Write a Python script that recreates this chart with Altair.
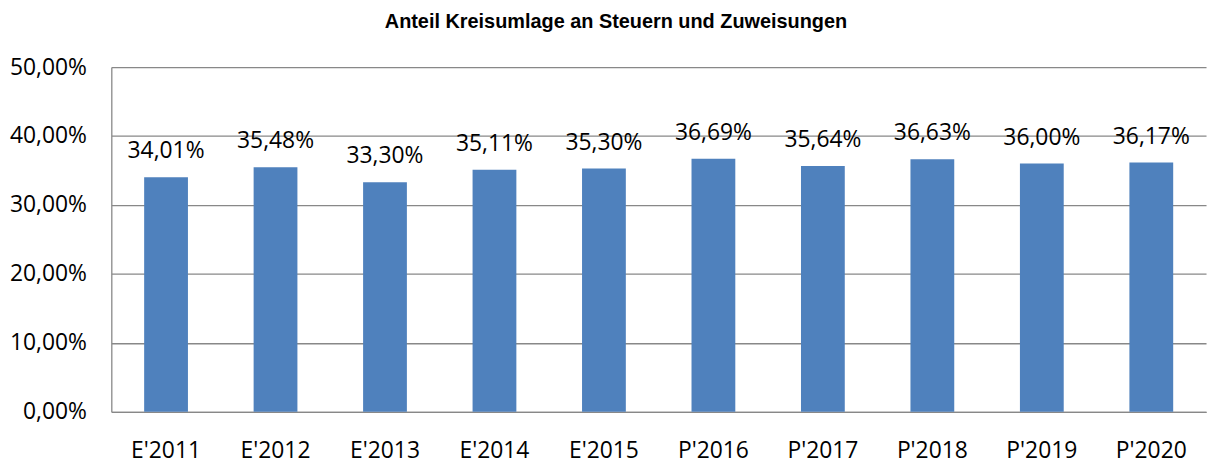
import altair as alt
import pandas as pd

categories = ["E'2011", "E'2012", "E'2013", "E'2014", "E'2015",
              "P'2016", "P'2017", "P'2018", "P'2019", "P'2020"]
values = [34.01, 35.48, 33.30, 35.11, 35.30, 36.69, 35.64, 36.63, 36.00, 36.17]
labels = [f"{v:.2f}".replace(".", ",") + "%" for v in values]

df = pd.DataFrame({"cat": categories, "val": values, "lab": labels})

FONT = "Open Sans"
GRID = "#888888"

x = alt.X("cat:N", sort=categories, title=None,
          scale=alt.Scale(paddingInner=0.6, paddingOuter=0.3),
          axis=alt.Axis(labelAngle=0, labelFont=FONT, labelFontSize=23,
                        labelColor="black", ticks=False, labelPadding=28,
                        domainColor=GRID, domainWidth=1.3))
y = alt.Y("val:Q", title=None,
          scale=alt.Scale(domain=[0, 50], nice=False),
          axis=alt.Axis(values=[0, 10, 20, 30, 40, 50],
                        labelExpr="replace(format(datum.value, '.2f'), '.', ',') + '%'",
                        labelFont=FONT, labelFontSize=23, labelColor="black",
                        ticks=False, labelPadding=25, gridColor=GRID,
                        gridWidth=1.3, domainColor=GRID, domainWidth=1.3))

base = alt.Chart(df)
bars = base.mark_bar(color="#4F81BD").encode(x=x, y=y)
text = base.mark_text(font=FONT, fontSize=23, color="black",
                      baseline="alphabetic", dy=-19).encode(
    x=alt.X("cat:N", sort=categories), y="val:Q", text="lab:N")

chart = (bars + text).properties(
    width=1102, height=347,
    autosize=alt.AutoSizeParams(type="none"),
    padding={"left": 104, "top": 58, "right": 5, "bottom": 46},
    title=alt.TitleParams("Anteil Kreisumlage an Steuern und Zuweisungen",
                          anchor="middle", dx=-43, offset=24),
).configure_view(stroke=None).configure_title(
    font="Liberation Sans", fontSize=20, fontWeight="bold", color="black")

chart.save("out.html", embed_options={"renderer": "svg", "actions": False})
